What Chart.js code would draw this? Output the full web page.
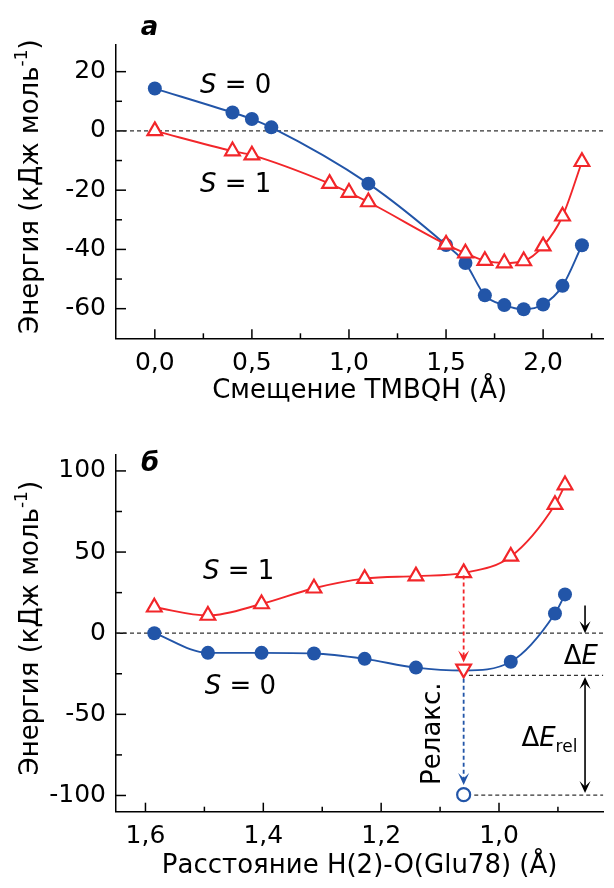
<!DOCTYPE html>
<html lang="ru"><head><meta charset="utf-8"><title>Энергия</title>
<script src="https://cdn.jsdelivr.net/npm/chart.js@4.4.1/dist/chart.umd.min.js"></script>
<style>
html,body{margin:0;padding:0;background:#fff;overflow:hidden}
canvas{position:absolute;left:0;display:block}
#ca{top:0}#cb{top:444px}
</style></head><body>
<canvas id="ca" width="614" height="444"></canvas>
<canvas id="cb" width="614" height="444"></canvas>
<script>
// ---------- Panel а : Смещение TMBQH ----------
const catA_S0 = [0, 0.4, 0.5, 0.6, 1.1, 1.5, 1.6, 1.7, 1.8, 1.9, 2.0, 2.1, 2.2];
const valA_S0 = [14.3, 6.2, 4.0, 1.2, -17.8, -38.5, -44.6, -55.5, -58.8, -60.2, -58.6, -52.3, -38.6];
const catA_S1 = [0, 0.4, 0.5, 0.9, 1.0, 1.1, 1.5, 1.6, 1.7, 1.8, 1.9, 2.0, 2.1, 2.2];
const valA_S1 = [0, -6.8, -8.2, -17.8, -20.8, -24.0, -38.3, -41.3, -43.8, -44.6, -43.9, -38.9, -28.8, -10.4];
const xTicksA = [0, 0.5, 1.0, 1.5, 2.0];
const xMinorA = [0.25, 0.75, 1.25, 1.75, 2.25];
const yTicksA = [-60, -40, -20, 0, 20];
const yMinorA = [-50, -30, -10, 10];

// ---------- Panel б : Расстояние H(2)-O(Glu78) ----------
const catB = [1.585, 1.494, 1.403, 1.314, 1.228, 1.141, 1.06, 0.980, 0.905, 0.888];
const valB_S0 = [0, -12.1, -12.1, -12.5, -15.8, -21.2, -23.0, -17.6, 12.1, 23.9];
const valB_S1 = [16.0, 10.9, 18.0, 27.7, 33.6, 35.2, 37.2, 47.3, 79.2, 91.3];
const catB_marked = [1.06];          // S=1 geometry: energy on S=0 surface / after relaxation
const valB_S0atS1 = [-22.0];
const valB_relaxed = [-99.5];
const levelB_dE = -26;
const levelB_rel = -99.8;
const xTicksB = [1.6, 1.4, 1.2, 1.0];
const xMinorB = [1.5, 1.3, 1.1, 0.9];
const yTicksB = [-100, -50, 0, 50, 100];
const yMinorB = [-75, -25, 25, 75];

const BLUE = '#2255a8', RED = '#f2262a';
const FAM = '"DejaVu Sans", "Liberation Sans", sans-serif';
const F = (style, size) => {
  const s = style === 'i' ? 'italic ' : style === 'bi' ? 'italic bold ' : style === 'b' ? 'bold ' : '';
  return s + size + 'px ' + FAM;
};
const pts = (xs, ys) => xs.map((x, i) => ({x, y: ys[i]}));
const fmtC = v => Number(v).toFixed(1).replace('.', ',');

function richW(ctx, parts) {
  let w = 0;
  for (const p of parts) { ctx.font = F(p[1], p[2]); w += ctx.measureText(p[0]).width; }
  return w;
}
function drawRich(ctx, parts, x, y, align) {
  const w = richW(ctx, parts);
  let cx = align === 'left' ? x : x - w / 2;
  ctx.textAlign = 'left'; ctx.textBaseline = 'alphabetic';
  for (const p of parts) {
    ctx.font = F(p[1], p[2]);
    ctx.fillText(p[0], cx, y + (p[3] || 0));
    cx += ctx.measureText(p[0]).width;
  }
}
function head(ctx, x, y, dir, color) {
  const len = 12, hw = 5.5;
  ctx.fillStyle = color;
  ctx.beginPath();
  ctx.moveTo(x, y);
  ctx.lineTo(x - hw, y - dir * len);
  ctx.lineTo(x, y - dir * len * 0.55);
  ctx.lineTo(x + hw, y - dir * len);
  ctx.closePath();
  ctx.fill();
}

function makeChart(id, cfg) {
  const deco = {
    id: 'deco',
    beforeDatasetsDraw(chart) {
      const ctx = chart.ctx, xs = chart.scales.x, ys = chart.scales.y, a = chart.chartArea;
      ctx.save();
      ctx.strokeStyle = '#000'; ctx.lineWidth = 1.5;
      const xt = (v, L) => { const p = xs.getPixelForValue(v); ctx.beginPath(); ctx.moveTo(p, a.bottom); ctx.lineTo(p, a.bottom - L); ctx.stroke(); };
      const yt = (v, L) => { const p = ys.getPixelForValue(v); ctx.beginPath(); ctx.moveTo(a.left, p); ctx.lineTo(a.left + L, p); ctx.stroke(); };
      cfg.xTicks.forEach(v => xt(v, 9)); cfg.xMinor.forEach(v => xt(v, 5));
      cfg.yTicks.forEach(v => yt(v, 10)); cfg.yMinor.forEach(v => yt(v, 6));
      ctx.restore();
    },
    afterDraw(chart) {
      const ctx = chart.ctx, xs = chart.scales.x, ys = chart.scales.y, a = chart.chartArea;
      ctx.save();
      ctx.fillStyle = '#000';
      // axis titles
      drawRich(ctx, [[cfg.xTitle, 'n', 26]], (a.left + a.right) / 2, a.bottom + cfg.xTitleOff);
      ctx.save();
      ctx.translate(38, (a.top + a.bottom) / 2 - 5);
      ctx.rotate(-Math.PI / 2);
      drawRich(ctx, [['Энергия (кДж моль', 'n', 26], ['-1', 'n', 17, -11], [')', 'n', 26]], 0, 0);
      ctx.restore();
      // texts
      for (const t of cfg.texts) {
        ctx.fillStyle = t.color || '#000';
        const px = xs.getPixelForValue(t.x), py = ys.getPixelForValue(t.y);
        if (t.rot) {
          ctx.save(); ctx.translate(px, py); ctx.rotate(-Math.PI / 2);
          drawRich(ctx, t.parts, 0, 0); ctx.restore();
        } else {
          drawRich(ctx, t.parts, px, py, t.align);
        }
      }
      // arrows
      for (const ar of (cfg.arrows || [])) {
        const px = xs.getPixelForValue(ar.x);
        const p0 = ys.getPixelForValue(ar.y0), p1 = ys.getPixelForValue(ar.y1);
        const dir = p1 > p0 ? 1 : -1;
        ctx.strokeStyle = ar.color; ctx.lineWidth = ar.dash ? 1.8 : 1.6;
        ctx.setLineDash(ar.dash ? [4, 3] : []);
        ctx.beginPath();
        ctx.moveTo(px, ar.both ? p0 + dir * 6 : p0);
        ctx.lineTo(px, p1 - dir * 6);
        ctx.stroke();
        ctx.setLineDash([]);
        head(ctx, px, p1, dir, ar.color);
        if (ar.both) head(ctx, px, p0, -dir, ar.color);
      }
      ctx.restore();
    }
  };
  const tickFont = {family: FAM, size: 25};
  return new Chart(document.getElementById(id), {
    type: 'line',
    data: {datasets: cfg.datasets},
    options: {
      responsive: false, animation: false, events: [],
      layout: {padding: {top: cfg.padTop, left: 0, right: 0, bottom: 0}},
      plugins: {legend: {display: false}, tooltip: {enabled: false}},
      scales: {
        x: {
          type: 'linear', min: cfg.xMin, max: cfg.xMax, reverse: !!cfg.xRev,
          afterBuildTicks: s => { s.ticks = cfg.xTicks.map(v => ({value: v})); },
          afterFit: s => { s.height = cfg.xH; s.paddingLeft = 0; s.paddingRight = 0; },
          ticks: {font: tickFont, color: '#000', padding: 10, maxRotation: 0, autoSkip: false, callback: v => fmtC(v)},
          grid: {drawOnChartArea: false, drawTicks: false},
          border: {color: '#000', width: 1.5}
        },
        y: {
          type: 'linear', min: cfg.yMin, max: cfg.yMax,
          afterBuildTicks: s => { s.ticks = cfg.yTicks.map(v => ({value: v})); },
          afterFit: s => { s.width = 116; s.paddingTop = 0; s.paddingBottom = 0; },
          ticks: {font: tickFont, color: '#000', padding: 10, autoSkip: false, callback: v => String(v)},
          grid: {drawOnChartArea: false, drawTicks: false},
          border: {color: '#000', width: 1.5}
        }
      }
    },
    plugins: [deco]
  });
}

const dashedLine = (data) => ({
  data, borderColor: '#333', borderWidth: 1.3, borderDash: [4, 3], pointRadius: 0, order: 10, tension: 0
});

// ---------- Chart а ----------
makeChart('ca', {
  xMin: -0.2, xMax: 2.31, yMin: -70, yMax: 29, padTop: 45, xH: 105.7, xTitleOff: 60,
  xTicks: xTicksA, xMinor: xMinorA, yTicks: yTicksA, yMinor: yMinorA,
  xTitle: 'Смещение TMBQH (Å)',
  datasets: [
    dashedLine([{x: -0.2, y: 0}, {x: 2.31, y: 0}]),
    {data: pts(catA_S0, valA_S0), borderColor: BLUE, borderWidth: 1.9, cubicInterpolationMode: 'monotone',
     pointRadius: 7, pointBackgroundColor: BLUE, pointBorderColor: BLUE, pointBorderWidth: 0, order: 2},
    {data: pts(catA_S1, valA_S1), borderColor: RED, borderWidth: 1.9, cubicInterpolationMode: 'monotone',
     pointStyle: 'triangle', pointRadius: 8.5, pointBackgroundColor: '#fff', pointBorderColor: RED, pointBorderWidth: 2.2, order: 1}
  ],
  texts: [
    {x: 0.416, y: 12.7, parts: [['S', 'i', 26], [' = 0', 'n', 26]]},
    {x: 0.416, y: -20.5, parts: [['S', 'i', 26], [' = 1', 'n', 26]]},
    {x: -0.027, y: 32.4, parts: [['а', 'bi', 26]]}
  ]
});

// ---------- Chart б ----------
makeChart('cb', {
  xMin: 0.823, xMax: 1.65, xRev: true, yMin: -110, yMax: 110, padTop: 7.7, xH: 76.3, xTitleOff: 61,
  xTicks: xTicksB, xMinor: xMinorB, yTicks: yTicksB, yMinor: yMinorB,
  xTitle: 'Расстояние H(2)-O(Glu78) (Å)',
  datasets: [
    dashedLine([{x: 1.65, y: 0}, {x: 0.823, y: 0}]),
    dashedLine([{x: 1.051, y: levelB_dE}, {x: 0.823, y: levelB_dE}]),
    dashedLine([{x: 1.042, y: levelB_rel}, {x: 0.823, y: levelB_rel}]),
    {data: pts(catB, valB_S0), borderColor: BLUE, borderWidth: 1.9, cubicInterpolationMode: 'monotone',
     pointRadius: catB.map(x => catB_marked.includes(x) ? 0 : 7),
     pointBackgroundColor: BLUE, pointBorderColor: BLUE, pointBorderWidth: 0, order: 3},
    {data: pts(catB, valB_S1), borderColor: RED, borderWidth: 1.9, cubicInterpolationMode: 'monotone',
     pointStyle: 'triangle', pointRadius: 8.5, pointBackgroundColor: '#fff', pointBorderColor: RED, pointBorderWidth: 2.2, order: 2},
    {data: pts(catB_marked, valB_S0atS1), showLine: false, pointStyle: 'triangle', rotation: 180,
     pointRadius: 8.5, pointBackgroundColor: '#fff', pointBorderColor: RED, pointBorderWidth: 2.2, order: 1},
    {data: pts(catB_marked, valB_relaxed), showLine: false, pointStyle: 'circle',
     pointRadius: 6.5, pointBackgroundColor: '#fff', pointBorderColor: BLUE, pointBorderWidth: 2.2, order: 1}
  ],
  texts: [
    {x: 1.442, y: 33.6, parts: [['S', 'i', 26], [' = 1', 'n', 26]]},
    {x: 1.439, y: -37.4, parts: [['S', 'i', 26], [' = 0', 'n', 26]]},
    {x: 1.592, y: 99.8, parts: [['б', 'bi', 26]]},
    {x: 1.0993, y: -61.9, rot: true, parts: [['Релакс.', 'n', 26]]},
    {x: 0.861, y: -19.0, parts: [['Δ', 'n', 26], ['E', 'i', 26]]},
    {x: 0.962, y: -69.7, align: 'left', parts: [['Δ', 'n', 26], ['E', 'i', 26], ['rel', 'n', 17, 6]]}
  ],
  arrows: [
    {x: 1.06, y0: 35.5, y1: -18.0, color: RED, dash: true},
    {x: 1.06, y0: -28, y1: -93.5, color: BLUE, dash: true},
    {x: 0.854, y0: 17, y1: 0, color: '#000'},
    {x: 0.854, y0: -27, y1: -98.5, color: '#000', both: true}
  ]
});
</script>
</body></html>
